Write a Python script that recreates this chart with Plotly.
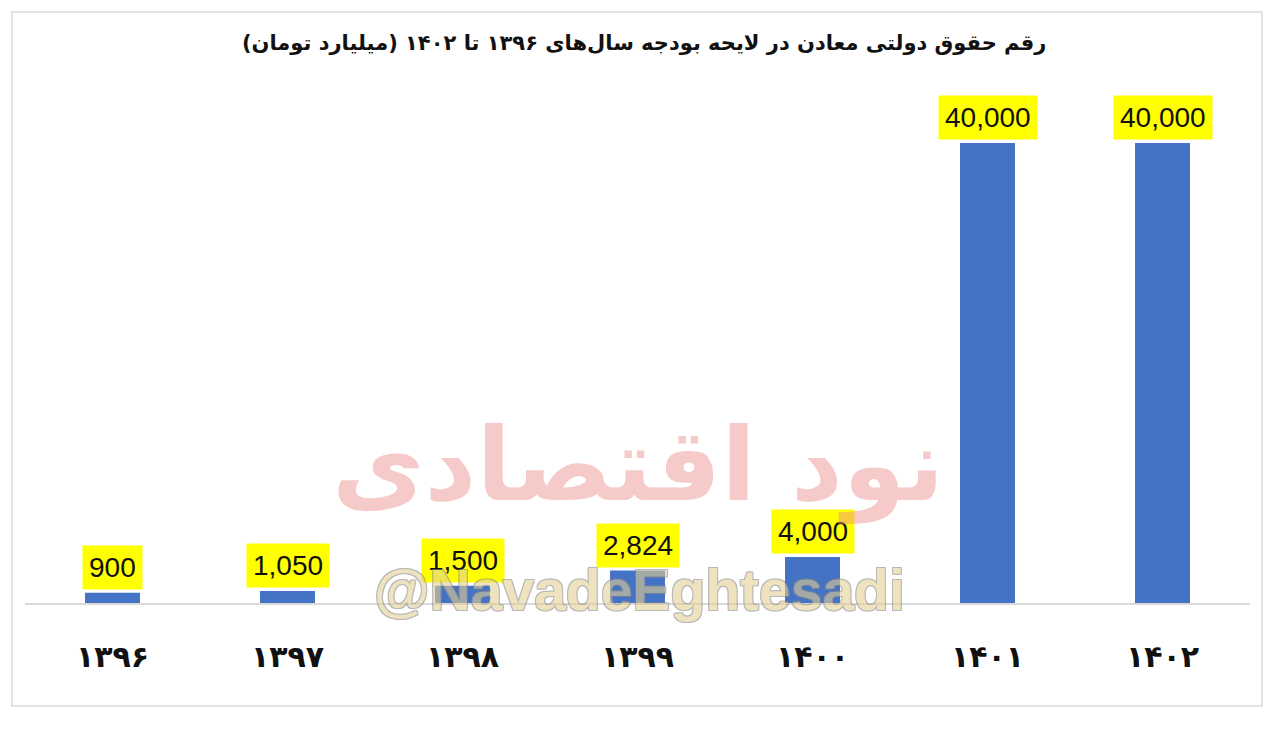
import plotly.graph_objects as go

years = ["۱۳۹۶", "۱۳۹۷", "۱۳۹۸", "۱۳۹۹", "۱۴۰۰", "۱۴۰۱", "۱۴۰۲"]
values = [900, 1050, 1500, 2824, 4000, 40000, 40000]
title_text = "رقم حقوق دولتی معادن در لایحه بودجه سال‌های ۱۳۹۶ تا ۱۴۰۲ (میلیارد تومان)"

BAR = "#4472C4"

fig = go.Figure()
fig.add_trace(go.Bar(x=years, y=values, marker=dict(color=BAR, line=dict(width=0)),
                     hoverinfo="x+y"))

for yr, v in zip(years, values):
    fig.add_annotation(x=yr, y=v, xref="x", yref="y", text=f"{v:,}", showarrow=False,
                       yanchor="bottom", yshift=3, bgcolor="#FFFF00", borderpad=6,
                       font=dict(family="Liberation Sans", size=28, color="#111111"))

# watermark texts (drawn semi-transparent over the chart, as in the source image)
fig.add_annotation(x=0.5, y=0.152, xref="paper", yref="paper", text="نود اقتصادی",
                   showarrow=False,
                   font=dict(family="DejaVu Sans", size=101, color="#EF8C8C", weight="bold"),
                   opacity=0.45)
fig.add_annotation(x=0.502, y=-0.042, xref="paper", yref="paper", text="<b>@NavadeEghtesadi</b>",
                   showarrow=False,
                   font=dict(family="Liberation Sans", size=57, color="#E3CF95",
                             shadow="-1px -1px 0 #8a8a8a, 1px -1px 0 #8a8a8a, -1px 1px 0 #8a8a8a, 1px 1px 0 #8a8a8a"),
                   opacity=0.6)

# outer chart border
fig.add_shape(type="rect", xref="paper", yref="paper", x0=-0.0106, x1=1.0098, y0=-0.2048, y1=1.175,
              line=dict(color="#D9D9D9", width=1.5), fillcolor="rgba(0,0,0,0)", layer="below")

fig.update_layout(
    width=1280, height=729,
    paper_bgcolor="white", plot_bgcolor="white",
    margin=dict(l=17, r=38, t=92, b=134),
    bargap=0.686,
    showlegend=False,
    title=dict(text=title_text, x=0.497, xanchor="center", y=1 - 35 / 729, yanchor="middle",
               font=dict(family="DejaVu Sans", size=21, color="#111111", weight="bold")),
    xaxis=dict(showline=True, linecolor="#D9D9D9", linewidth=1.5, showgrid=False, ticks="",
               tickfont=dict(family="DejaVu Sans", size=30, color="#111111", weight="bold"),
               ticklabelstandoff=26, fixedrange=True),
    yaxis=dict(range=[0, 43740], visible=False, showgrid=False, zeroline=False, fixedrange=True),
)

fig.write_html("out.html")
